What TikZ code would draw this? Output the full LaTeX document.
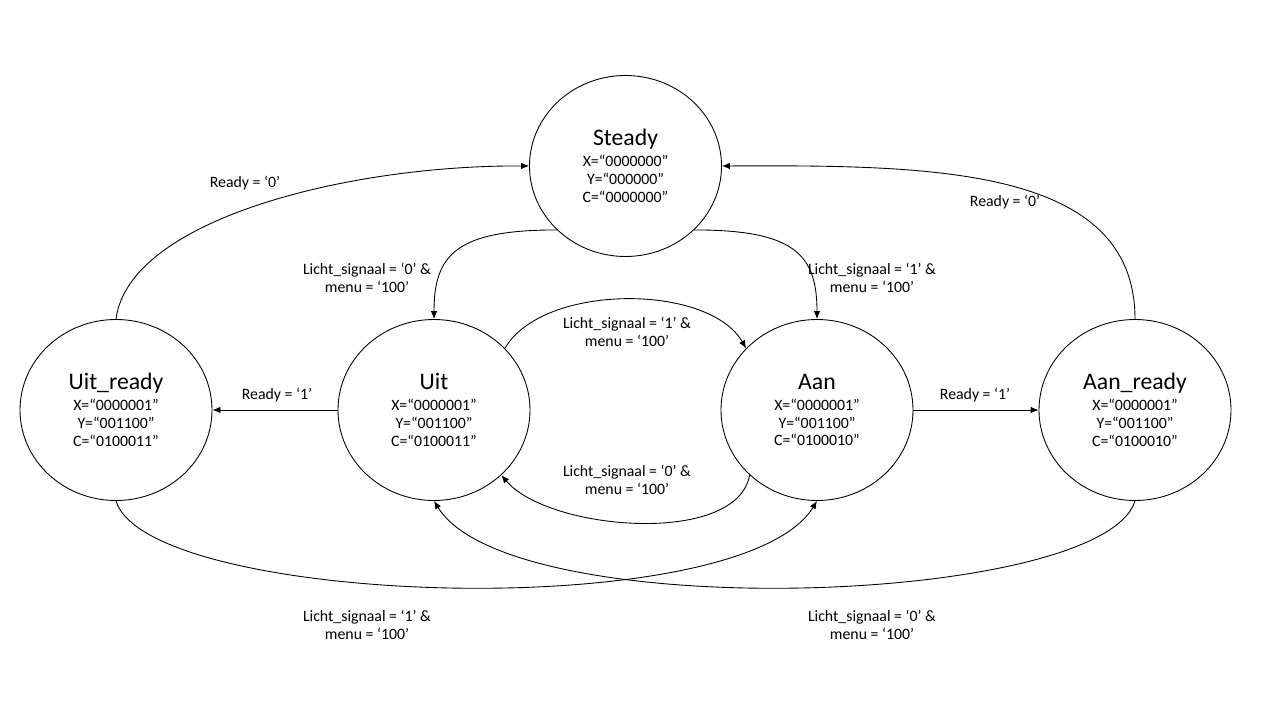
\documentclass[tikz,border=0pt]{standalone}
\usepackage{fontspec}
\setmainfont{Carlito}
\usetikzlibrary {arrows.meta, shapes.geometric}
\tikzset{
  >={Latex[length=1.6mm, width=1.3mm]}
}

\begin{document}
\begin{tikzpicture}[font=\fontsize{9}{10.2}\selectfont, line width=0.5pt,
    toestand/.style={ellipse, draw, minimum width=3.84cm, minimum height=3.62cm, inner sep=0pt, align=center},
    cond/.style={align=center, inner sep=1pt}]
    \useasboundingbox (0, 0) rectangle (25.6, 14.4);
    % states
    \node[toestand] (st) at (12.51, 11.08) {{\fontsize{13.5}{14}\selectfont Steady}\\[1.7pt] X=“0000000”\\ Y=“000000”\\ C=“0000000”};
    \node[toestand] (ur) at (2.32, 6.2) {{\fontsize{13.5}{14}\selectfont Uit\_ready}\\[1.7pt] X=“0000001”\\ Y=“001100”\\ C=“0100011”};
    \node[toestand] (uit) at (8.68, 6.2) {{\fontsize{13.5}{14}\selectfont Uit}\\[1.7pt] X=“0000001”\\ Y=“001100”\\ C=“0100011”};
    \node[toestand] (aan) at (16.34, 6.2) {{\fontsize{13.5}{14}\selectfont Aan}\\[1.7pt] X=“0000001”\\ Y=“001100”\\ C=“0100010”};
    \node[toestand] (ar) at (22.7, 6.2) {{\fontsize{13.5}{14}\selectfont Aan\_ready}\\[1.7pt] X=“0000001”\\ Y=“001100”\\ C=“0100010”};
    % transitions
    % 1. back to steady
    \draw[->] (ur.north) .. controls +(0.26, 2.0) and +(-3.6, 0.02) .. (st.west);
    \draw[->] (ar.north) .. controls +(0, 3.05) and +(4.2, 0.02) .. (st.east);
    % 2. from steady
    \draw[->] (st.223) .. controls +(-2, 0) and +(0, 1.3) .. (uit.north);
    \draw[->] (st.-43) .. controls +(2, 0) and +(0, 1.3) .. (aan.north);
    % 3. between uit and aan
    \draw[->] (uit.41) to[out=60, in=120, looseness=0.8] (aan.139);
    \draw[->] (aan.224) to[out=-100, in=-50, looseness=0.75] (uit.-44);
    % 4. ready
    \draw[->] (uit.west) -- (ur.east);
    \draw[->] (aan.east) -- (ar.west);
    % 5. crossing ones
    \draw[->] (ur.south) .. controls +(0.64, -2.1) and +(-1.54, -2.5) .. (aan.south);
    \draw[->] (ar.south) .. controls +(-0.64, -2.1) and +(1.54, -2.5) .. (uit.south);
    % labels
    \node[cond] (l1) at (4.9, 10.74) {Ready = ‘0’};
    \node[cond] (l2) at (20.1, 10.36) {Ready = ‘0’};
    \node[cond] (l3) at (7.34, 8.84) {Licht\_signaal = ‘0’ \&\\ menu = ‘100’};
    \node[cond] (l4) at (17.44, 8.84) {Licht\_signaal = ‘1’ \&\\ menu = ‘100’};
    \node[cond] (l5) at (12.54, 7.76) {Licht\_signaal = ‘1’ \&\\ menu = ‘100’};
    \node[cond] (l6) at (12.54, 4.8) {Licht\_signaal = ‘0’ \&\\ menu = ‘100’};
    \node[cond] (l7) at (5.54, 6.5) {Ready = ‘1’};
    \node[cond] (l8) at (19.5, 6.5) {Ready = ‘1’};
    \node[cond] (l9) at (7.34, 1.9) {Licht\_signaal = ‘1’ \&\\ menu = ‘100’};
    \node[cond] (l10) at (17.44, 1.9) {Licht\_signaal = ‘0’ \&\\ menu = ‘100’};
\end{tikzpicture}
\end{document}
